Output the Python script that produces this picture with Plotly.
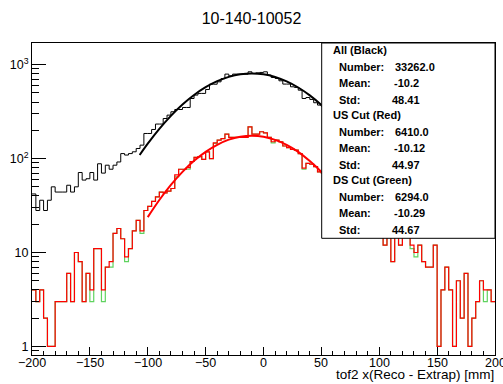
import numpy as np
import plotly.graph_objects as go

# === Binning: 120 bins from -200 to 200 mm ===
N_BINS = 120
X_LO, X_HI = -200, 200
edges = np.linspace(X_LO, X_HI, N_BINS + 1)

# === Histogram contents ===
# All (black) - bins beyond ~50 mm sit behind the stats box
all_counts = [42, 28, 36, 28, 36, 50, 44, 44, 44, 52,
              44, 50, 71, 59, 61, 71, 59, 88, 70, 85,
              77, 85, 92, 113, 109, 113, 118, 128, 139, 185,
              185, 204, 233, 233, 267, 290, 315, 333, 333, 350,
              350, 436, 474, 494, 494, 544, 619, 619, 656, 710,
              793, 760, 793, 793, 792, 792, 839, 806, 818, 826,
              839, 773, 730, 713, 673, 621, 621, 581, 572, 535,
              436, 447, 426, 393, 371, 360, 340]

# US cut (red)
us_counts = [4, 3, 4, 2, 1, 1, 3, 3, 3, 6,
             3, 10, 8, 3, 6, 4, 11, 11, 4, 7,
             8, 16, 18, 14, 9, 11, 17, 22, 17, 28,
             31, 35, 39, 44, 43, 45, 48, 67, 77, 77,
             80, 93, 103, 105, 98, 118, 100, 147, 157, 163,
             182, 168, 168, 168, 168, 168, 218, 182, 182, 193,
             188, 168, 151, 157, 151, 136, 131, 125, 123, 113,
             79, 89, 87, 82, 72, 70, 62, 58, 50, 45,
             40, 36, 33, 28, 26, 22, 20, 18, 17, 16,
             15, 12, 16, 8, 15, 12, 16, 15, 12, 10,
             12, 8, 7, 7, 12, 1, 4, 7, 4, 1,
             5, 2, 6, 1, 2, 3, 5, 4, 4, 3]

# DS cut (green) - mostly under the red one
ds_counts = [4, 3, 4, 2, 1, 1, 3, 3, 3, 6,
             3, 10, 8, 3, 6, 3, 11, 11, 3, 7,
             7, 16, 18, 14, 8, 11, 17, 22, 16, 28,
             31, 35, 39, 44, 43, 45, 48, 64, 77, 77,
             77, 93, 103, 105, 98, 118, 100, 145, 157, 163,
             182, 168, 168, 168, 168, 168, 218, 182, 182, 193,
             188, 168, 147, 157, 151, 136, 131, 125, 123, 113,
             77, 89, 87, 82, 72, 70, 62, 58, 50, 45,
             40, 36, 33, 28, 26, 22, 20, 18, 17, 16,
             15, 12, 16, 8, 15, 12, 16, 15, 11, 9,
             12, 8, 7, 7, 12, 1, 4, 7, 4, 1,
             5, 2, 6, 1, 2, 3, 5, 3, 4, 3]

# Gaussian fit curves, sampled along the drawn lines
all_fit_x = [-107, -100, -90, -80, -70, -60, -50, -40, -30, -20, -10,
             0, 10, 20, 30, 40, 50, 60, 70, 80, 86.6]
all_fit_y = [109, 144, 207, 285, 376, 475, 575, 667, 741, 790, 806,
             789, 739, 663, 571, 471, 372, 282, 204, 142, 109]
us_fit_x = [-100, -90, -80, -70, -60, -50, -40, -30, -20, -10,
            0, 10, 20, 30, 40, 50, 60, 70, 79.8]
us_fit_y = [23.8, 36.2, 52.4, 72.2, 94.6, 118, 140, 159, 171, 175,
            171, 158, 140, 118, 94, 72, 52, 36, 23.8]

# x tick labels
x_ticks = [-200, -150, -100, -50, 0, 50, 100, 150, 200]
x_tick_text = ["\u2212200", "\u2212150", "\u2212100", "\u221250", "0",
               "50", "100", "150", "200"]

# Stats box text
stats = [
    ("All (Black)", None),
    ("Number:", "33262.0"), ("Mean:", "-10.2"), ("Std:", "48.41"),
    ("US Cut (Red)", None),
    ("Number:", "6410.0"), ("Mean:", "-10.12"), ("Std:", "44.97"),
    ("DS Cut (Green)", None),
    ("Number:", "6294.0"), ("Mean:", "-10.29"), ("Std:", "44.67"),
]

title_text = "10-140-10052"
xlabel = "tof2 x(Reco - Extrap) [mm]"

FONT = "Liberation Sans, Arial, Helvetica, sans-serif"
W, H = 503, 384
ML, MR, MT, MB = 32, 8, 43, 29
PW, PH = W - ML - MR, H - MT - MB


def px_x(px):
    return (px - ML) / PW


def px_y(py):
    return (H - MB - py) / PH


def step_trace(counts, color, width, name):
    n = len(counts)
    xs = list(edges[:n]) + [edges[n]]
    ys = list(counts) + [counts[-1]]
    return go.Scatter(x=xs, y=ys, mode="lines", line_shape="hv",
                      line=dict(color=color, width=width), name=name,
                      hoverinfo="skip")


fig = go.Figure()
fig.add_trace(step_trace(all_counts, "#000000", 1, "All"))
fig.add_trace(go.Scatter(x=all_fit_x, y=all_fit_y, mode="lines",
                         line=dict(color="#000000", width=2, shape="spline"),
                         hoverinfo="skip"))
fig.add_trace(step_trace(ds_counts, "#5fd35f", 1.2, "DS"))
fig.add_trace(step_trace(us_counts, "#ff0000", 1.2, "US"))
fig.add_trace(go.Scatter(x=us_fit_x, y=us_fit_y, mode="lines",
                         line=dict(color="#ff0000", width=2, shape="spline"),
                         hoverinfo="skip"))
# dummy trace so the minor-tick axis is drawn
fig.add_trace(go.Scatter(x=[None], y=[None], yaxis="y2", showlegend=False))

y_range = [np.log10(0.81), np.log10(1700)]
minor_vals = [0.9] + [m * 10 ** d for d in range(0, 3) for m in range(2, 10)]

fig.update_layout(
    width=W, height=H,
    margin=dict(l=ML, r=MR, t=MT, b=MB, autoexpand=False),
    paper_bgcolor="white", plot_bgcolor="white",
    showlegend=False,
    font=dict(family=FONT, color="black", size=12.5),
    title=dict(text=title_text, x=0.5, xref="container", xanchor="center",
               y=1 - 18 / H, yref="container", yanchor="middle",
               font=dict(size=16, family=FONT, color="black")),
    xaxis=dict(range=[X_LO, X_HI], showgrid=False, zeroline=False,
               showline=True, linecolor="black", linewidth=1, mirror=True,
               ticks="inside", ticklen=8, tickcolor="black", tickwidth=1,
               tickmode="array", tickvals=x_ticks, showticklabels=False,
               minor=dict(ticks="inside", ticklen=4, dtick=10, tick0=0,
                          tickcolor="black", showgrid=False)),
    yaxis=dict(type="log", range=y_range, showgrid=False, zeroline=False,
               showline=True, linecolor="black", linewidth=1, mirror=True,
               ticks="inside", ticklen=14, tickcolor="black", tickwidth=1,
               tickmode="array", tickvals=[1, 10, 100, 1000],
               ticktext=["1", "10", "10<sup>2</sup>", "10<sup>3</sup>"],
               tickfont=dict(size=12.5)),
    yaxis2=dict(type="log", range=y_range, overlaying="y", anchor="x",
                side="left", showgrid=False, zeroline=False, showline=False,
                ticks="inside", ticklen=7, tickcolor="black", tickwidth=1,
                tickmode="array", tickvals=minor_vals,
                showticklabels=False),
)

# x tick labels, placed just under the axis like ROOT does
for v, t in zip(x_ticks, x_tick_text):
    fig.add_annotation(text=t, xref="x", yref="paper", x=v, y=px_y(362.5),
                       xanchor="center", yanchor="middle", showarrow=False,
                       borderpad=0, font=dict(size=12.5, family=FONT))

# x axis title, right aligned like ROOT
fig.add_annotation(text=xlabel, xref="paper", yref="paper",
                   x=px_x(495), y=px_y(374.5), xanchor="right", yanchor="middle",
                   showarrow=False, borderpad=0,
                   font=dict(size=13.5, family=FONT))

# stats box
fig.add_shape(type="rect", xref="paper", yref="paper",
              x0=px_x(321.7), x1=1.0, y0=px_y(238.3), y1=1.0,
              fillcolor="white", line=dict(color="black", width=1),
              layer="above")

row_y = [50, 66.7, 83.3, 100, 115, 131.7, 148.3, 165, 180, 196.7, 213.3, 230]
value_x = {"Number:": 392.7, "Mean:": 391.7, "Std:": 390}
for (label, val), py in zip(stats, row_y):
    lx = 330.7 if val is None else 336.7
    fig.add_annotation(text="<b>" + label + "</b>", xref="paper", yref="paper",
                       x=px_x(lx), y=px_y(py), xanchor="left", yanchor="middle",
                       showarrow=False, font=dict(size=11, family=FONT))
    if val is not None:
        fig.add_annotation(text="<b>" + val + "</b>", xref="paper", yref="paper",
                           x=px_x(value_x[label]), y=px_y(py), xanchor="left",
                           yanchor="middle", showarrow=False,
                           font=dict(size=11, family=FONT))

# the page body has a default 8px margin; drop it so the figure fills the window
fig.write_html("out.html", config={"displayModeBar": False},
               post_script="document.body.style.margin='0';")
